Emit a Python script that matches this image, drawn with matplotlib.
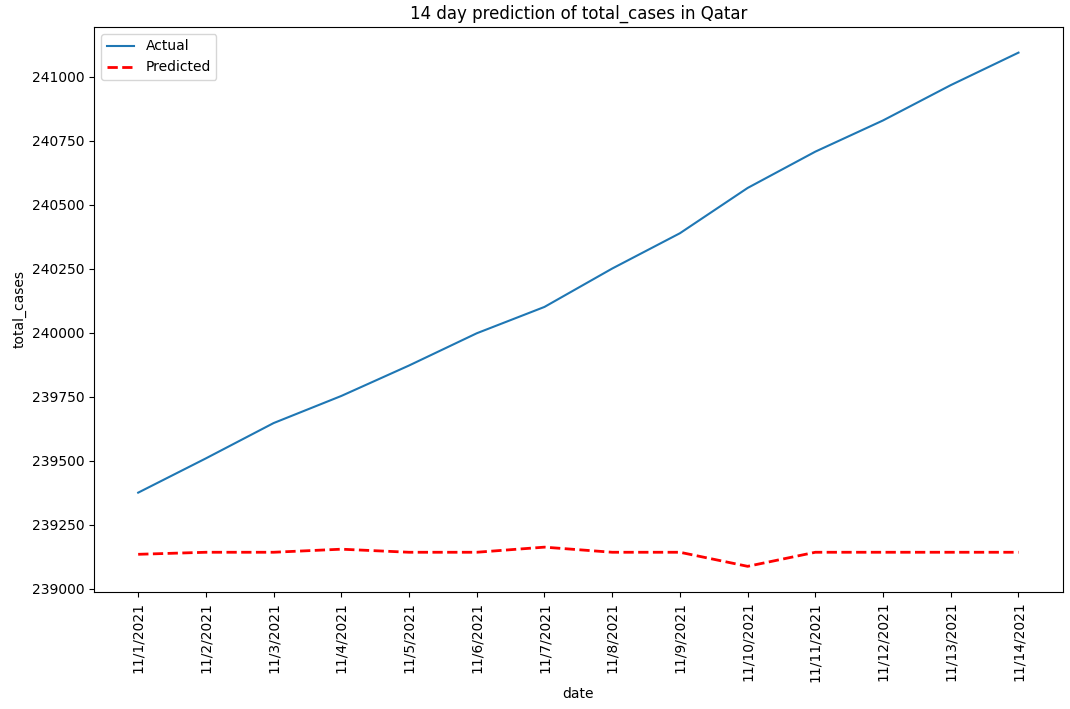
import matplotlib
matplotlib.use("Agg")
from matplotlib import pyplot as plt

dates = ["11/1/2021", "11/2/2021", "11/3/2021", "11/4/2021", "11/5/2021", "11/6/2021",
         "11/7/2021", "11/8/2021", "11/9/2021", "11/10/2021", "11/11/2021",
         "11/12/2021", "11/13/2021", "11/14/2021"]
actual = [239375, 239509, 239647, 239753, 239872, 239998, 240101,
          240251, 240389, 240566, 240708, 240830, 240968, 241095]
predicted = [239134, 239142, 239142, 239154, 239142, 239142, 239162,
             239142, 239142, 239087, 239142, 239142, 239142, 239142]

fig = plt.figure(figsize=(10.7, 7.09), dpi=100)
ax = fig.add_axes([0.088, 0.165, 0.905, 0.797])
ax.plot(dates, actual, label="Actual")
ax.plot(dates, predicted, "r--", linewidth=2, label="Predicted")
ax.set_title("14 day prediction of total_cases in Qatar")
ax.set_xlabel("date")
ax.set_ylabel("total_cases")
ax.legend(loc="upper left")
plt.xticks(rotation=90)
fig.savefig("out.png")
